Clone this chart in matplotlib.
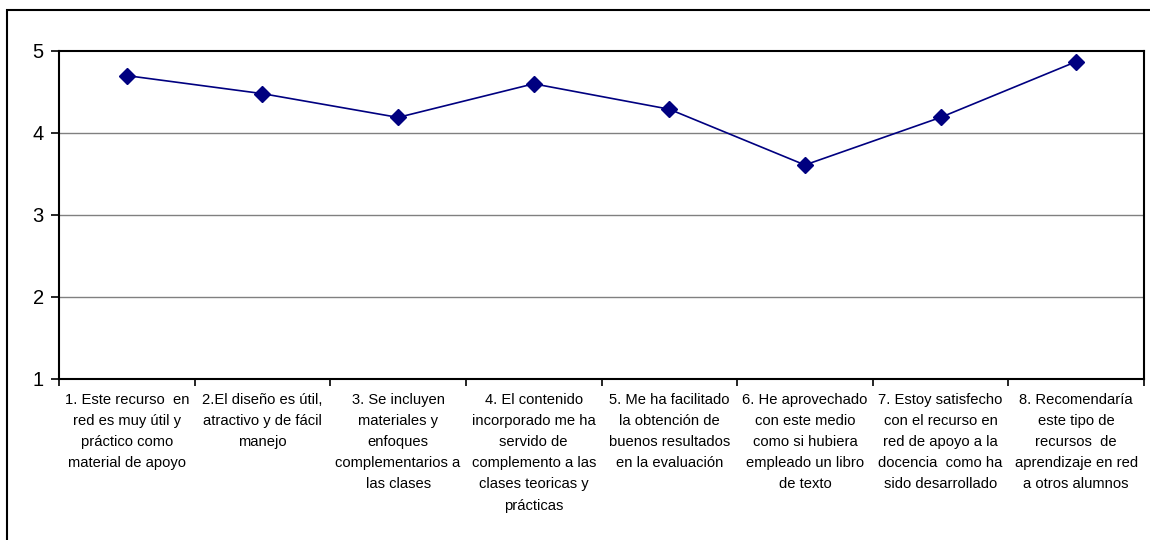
import matplotlib
matplotlib.use("Agg")
import matplotlib.pyplot as plt
from matplotlib.patches import Rectangle

plt.rcParams['font.family'] = ['Liberation Sans', 'DejaVu Sans']

categories = [
    "1. Este recurso  en\nred es muy útil y\npráctico como\nmaterial de apoyo",
    "2.El diseño es útil,\natractivo y de fácil\nmanejo",
    "3. Se incluyen\nmateriales y\nenfoques\ncomplementarios a\nlas clases",
    "4. El contenido\nincorporado me ha\nservido de\ncomplemento a las\nclases teoricas y\nprácticas",
    "5. Me ha facilitado\nla obtención de\nbuenos resultados\nen la evaluación",
    "6. He aprovechado\ncon este medio\ncomo si hubiera\nempleado un libro\nde texto",
    "7. Estoy satisfecho\ncon el recurso en\nred de apoyo a la\ndocencia  como ha\nsido desarrollado",
    "8. Recomendaría\neste tipo de\nrecursos  de\naprendizaje en red\na otros alumnos",
]
values = [4.70, 4.48, 4.19, 4.60, 4.29, 3.61, 4.19, 4.87]
y_ticks = [1, 2, 3, 4, 5]

fig = plt.figure(figsize=(11.5, 5.4), dpi=100)
# outer chart frame
fig.patches.append(Rectangle((7/1150, -0.05), 1.2, 1 - 10/540 + 0.05,
                             transform=fig.transFigure, fill=False,
                             edgecolor='black', linewidth=1.5))

ax = fig.add_axes([59/1150, 1 - 379/540, (1144 - 59)/1150, (379 - 51)/540])
x = list(range(len(values)))
ax.plot(x, values, color='#000080', linewidth=1.2, marker='D',
        markersize=8, markerfacecolor='#000080', markeredgecolor='#000080',
        zorder=3)

ax.set_xlim(-0.5, len(values) - 0.5)
ax.set_ylim(1, 5)
ax.set_yticks(y_ticks)
ax.set_yticklabels([str(t) for t in y_ticks], fontsize=14.5)
for t in y_ticks[1:-1]:
    ax.axhline(t, color='#808080', linewidth=1.0, zorder=1)

ax.set_xticks([i - 0.5 for i in range(len(values) + 1)])
ax.set_xticklabels([])
ax.set_xticks(x, minor=True)
ax.set_xticklabels(categories, minor=True, fontsize=10.6, linespacing=1.65,
                   va='top', ha='center')
ax.tick_params(axis='x', which='minor', length=0, pad=10)
ax.tick_params(axis='x', which='major', length=5, width=1.2, direction='out')
ax.tick_params(axis='y', length=6, width=1.2, direction='out', pad=5)

for s in ax.spines.values():
    s.set_linewidth(1.5)
    s.set_color('black')

fig.savefig("out.png", dpi=100)
